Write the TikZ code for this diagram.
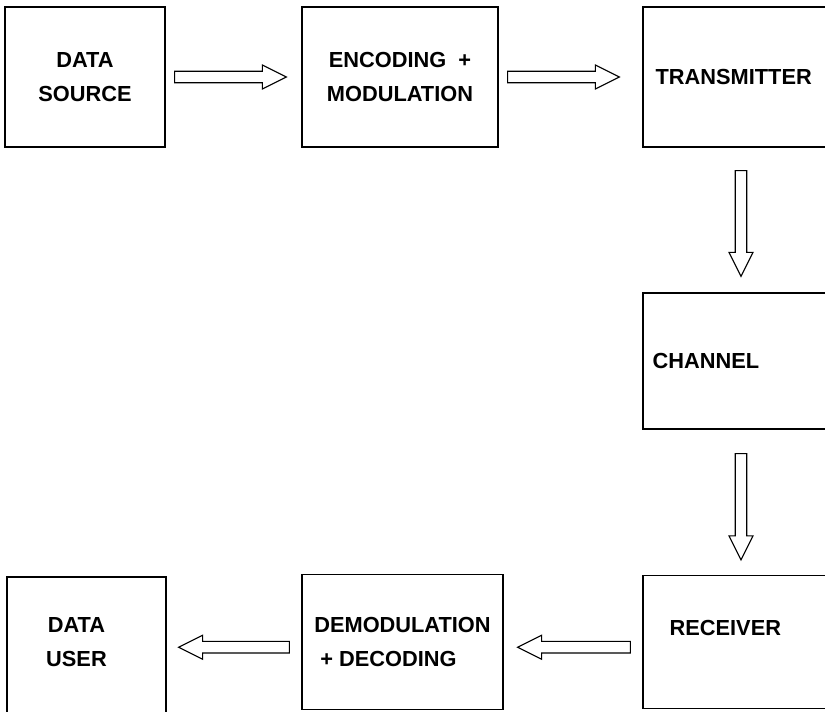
\documentclass[tikz,border=0pt]{standalone}
\usepackage{fontspec}
\setmainfont{Liberation Sans}
\usetikzlibrary{calc}

\begin{document}
\begin{tikzpicture}[
  box/.style={rectangle,draw,line width=0.9pt,inner sep=0pt},
  word/.style={font=\fontsize{15.5}{24}\selectfont\bfseries,inner sep=0pt},
  fatarrow/.style={line width=0.8pt,line join=miter,to path={
    let \p1=(\tikztostart), \p2=(\tikztotarget),
        \p3=($(\p2)!0.6cm!(\p1)$) in
    ($(\p1)!0.145cm!90:(\p2)$) -- ($(\p3)!0.145cm!-90:(\p1)$)
    -- ($(\p3)!0.3cm!-90:(\p1)$) -- (\p2)
    -- ($(\p3)!0.3cm!90:(\p1)$) -- ($(\p3)!0.145cm!90:(\p1)$)
    -- ($(\p1)!0.145cm!-90:(\p2)$) -- cycle}}
]

\clip (0,0) rectangle (20.625,17.8);

% data source node
\node[box,word,align=center,minimum width=4cm,minimum height=3.5cm] (src) at (2.125,15.875) {DATA\\SOURCE};

% encoding node
\node[box,word,align=center,minimum width=4.9cm,minimum height=3.5cm] (enc) at (10,15.875) {ENCODING \ +\\MODULATION};

% transmitter node
\node[box,minimum width=4.9cm,minimum height=3.5cm] (tx) at (18.525,15.875) {};
\node[word,anchor=west] (txtext) at ([xshift=0.325cm]tx.west) {TRANSMITTER};

% channel node
\node[box,minimum width=4.9cm,minimum height=3.4cm] (ch) at (18.525,8.775) {};
\node[word,anchor=west] (chtext) at ([xshift=0.25cm]ch.west) {CHANNEL};

% receiver node
\node[box,minimum width=4.9cm,minimum height=3.325cm] (rx) at (18.525,1.75) {};
\node[word,anchor=west] (rxtext) at ([xshift=0.675cm,yshift=0.35cm]rx.west) {RECEIVER};

% decoding node
\node[box,word,align=left,minimum width=5.025cm,minimum height=3.375cm] (dem) at (10.0625,1.75) {DEMODULATION\\\ + DECODING};

% data user node
\node[box,minimum width=3.975cm,minimum height=3.425cm] (user) at (2.1625,1.6625) {};
\node[word,align=center] (usertext) at ([xshift=-0.25cm,yshift=0.08cm]user.center) {DATA\\USER};

\draw[fatarrow] ([xshift=0.225cm]src.east) to ([xshift=-0.375cm]enc.west);
\draw[fatarrow] ([xshift=0.225cm]enc.east) to ([xshift=-0.575cm]tx.west);
\draw[fatarrow] ([yshift=-0.575cm]tx.south) to ([yshift=0.4cm]ch.north);
\draw[fatarrow] ([yshift=-0.6cm]ch.south) to ([yshift=0.375cm]rx.north);
\draw[fatarrow] ([xshift=-0.3cm,yshift=-0.13cm]rx.west) to ([xshift=0.35cm,yshift=-0.13cm]dem.east);
\draw[fatarrow] ([xshift=-0.3cm,yshift=-0.13cm]dem.west) to ([xshift=0.3cm,yshift=-0.13cm]dem.west -| user.east);

\end{tikzpicture}
\end{document}
